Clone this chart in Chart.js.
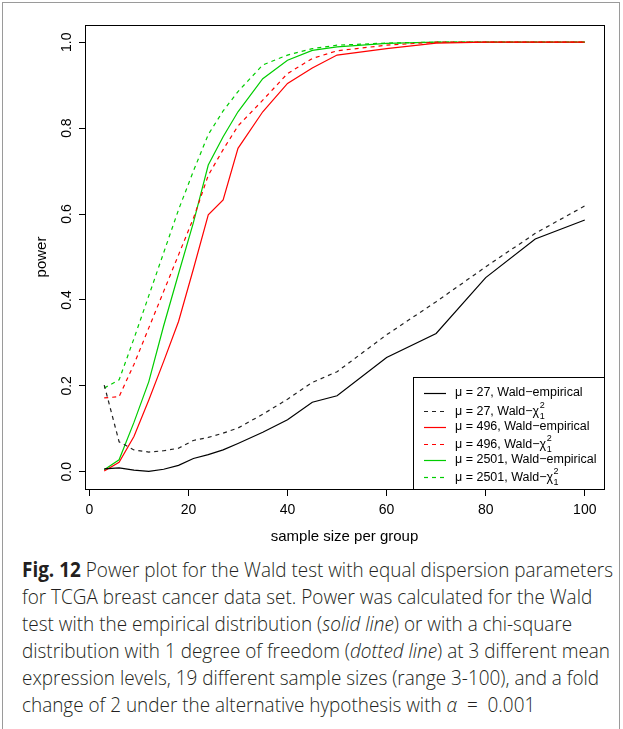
<!DOCTYPE html>
<html>
<head>
<meta charset="utf-8">
<script src="https://cdn.jsdelivr.net/npm/chart.js@4.4.1/dist/chart.umd.min.js"></script>
<style>
  html, body { margin:0; padding:0; background:#fff; }
  body { width:623px; height:729px; position:relative; overflow:hidden; }
  #frame { position:absolute; left:2px; top:2px; width:618px; height:760px; border:1px solid #9a9a9a; box-sizing:border-box; }
  #chart { position:absolute; left:0; top:0; }
  #cap { position:absolute; left:22px; top:556px; font-family:'Open Sans', sans-serif; font-weight:300; font-size:21px; line-height:27px; white-space:nowrap; transform-origin:0 0; color:#231f20; }
  #cap b { font-weight:700; }
</style>
</head>
<body>
<div id="frame"></div>
<canvas id="chart" width="623" height="550"></canvas>
<div id="cap"><span id="l1"><b>Fig. 12</b> Power plot for the Wald test with equal dispersion parameters</span><br>for TCGA breast cancer data set. Power was calculated for the Wald<br>test with the empirical distribution (<i>solid line</i>) or with a chi-square<br>distribution with 1 degree of freedom (<i>dotted line</i>) at 3 different mean<br>expression levels, 19 different sample sizes (range 3-100), and a fold<br>change of 2 under the alternative hypothesis with <i>α</i>&nbsp;&nbsp;=&nbsp;&nbsp;0.001</div>
<script>
// ---- data ----
const sampleSizes = [3, 6, 9, 12, 15, 18, 21, 24, 27, 30, 35, 40, 45, 50, 60, 70, 80, 90, 100];
const mu27Empirical = [0.007, 0.009, 0.004, 0.001, 0.006, 0.015, 0.031, 0.040, 0.051, 0.066, 0.092, 0.121, 0.162, 0.177, 0.266, 0.322, 0.452, 0.542, 0.586];
const mu27Chisq     = [0.202, 0.070, 0.051, 0.046, 0.049, 0.055, 0.073, 0.080, 0.090, 0.102, 0.134, 0.169, 0.208, 0.233, 0.319, 0.396, 0.477, 0.555, 0.619];
const mu496Empirical = [0.002, 0.022, 0.082, 0.167, 0.257, 0.350, 0.472, 0.598, 0.633, 0.753, 0.838, 0.904, 0.940, 0.970, 0.985, 0.998, 1.0, 1.0, 1.0];
const mu496Chisq     = [0.172, 0.175, 0.250, 0.335, 0.420, 0.505, 0.590, 0.690, 0.750, 0.805, 0.865, 0.927, 0.962, 0.980, 0.993, 1.0, 1.0, 1.0, 1.0];
const mu2501Empirical = [0.005, 0.028, 0.115, 0.210, 0.340, 0.461, 0.580, 0.714, 0.780, 0.838, 0.915, 0.958, 0.981, 0.989, 0.997, 1.0, 1.0, 1.0, 1.0];
const mu2501Chisq     = [0.195, 0.214, 0.310, 0.410, 0.510, 0.610, 0.700, 0.785, 0.840, 0.885, 0.947, 0.970, 0.985, 0.993, 0.998, 1.0, 1.0, 1.0, 1.0];

const xTicks = [0, 20, 40, 60, 80, 100];
const yTicks = [0, 0.2, 0.4, 0.6, 0.8, 1.0];
const yTickLabels = ['0.0', '0.2', '0.4', '0.6', '0.8', '1.0'];
const xTitle = 'sample size per group';
const yTitle = 'power';
const legendMu = ['μ = 27', 'μ = 27', 'μ = 496', 'μ = 496', 'μ = 2501', 'μ = 2501'];
const legendTest = ['empirical', 'chisq', 'empirical', 'chisq', 'empirical', 'chisq'];

// ---- styles ----
const FONT = "'Liberation Sans', Arial, Helvetica, sans-serif";
const BLACK = '#000000', RED = '#ff0000', GREEN = '#00cd00';
const DASH = [4, 4];

function pts(arr) { return sampleSizes.map((x, i) => ({ x: x, y: arr[i] })); }
function ds(label, arr, color, dash) {
  return { label: label, data: pts(arr), borderColor: color, backgroundColor: color,
           borderWidth: 1.2, borderDash: dash, pointRadius: 0, tension: 0, fill: false };
}
const datasets = [
  ds(legendMu[0] + ', Wald−empirical', mu27Empirical, BLACK, []),
  ds(legendMu[1] + ', Wald−χ²₁', mu27Chisq, '#222222', DASH),
  ds(legendMu[2] + ', Wald−empirical', mu496Empirical, RED, []),
  ds(legendMu[3] + ', Wald−χ²₁', mu496Chisq, RED, DASH),
  ds(legendMu[4] + ', Wald−empirical', mu2501Empirical, GREEN, []),
  ds(legendMu[5] + ', Wald−χ²₁', mu2501Chisq, GREEN, DASH)
];

const decor = {
  id: 'decor',
  afterDraw(chart) {
    const ctx = chart.ctx, ca = chart.chartArea;
    const xs = chart.scales.x, ys = chart.scales.y;
    ctx.save();
    // plot box
    ctx.strokeStyle = '#000'; ctx.lineWidth = 1; ctx.setLineDash([]);
    ctx.strokeRect(Math.round(ca.left) + 0.5, Math.round(ca.top) + 0.5,
                   Math.round(ca.right - ca.left), Math.round(ca.bottom - ca.top));
    // y tick labels (rotated, parallel to axis)
    ctx.fillStyle = '#000';
    ctx.font = '14px ' + FONT;
    ctx.textAlign = 'center'; ctx.textBaseline = 'alphabetic';
    yTicks.forEach((v, i) => {
      const py = ys.getPixelForValue(v);
      ctx.save(); ctx.translate(71, py); ctx.rotate(-Math.PI / 2);
      ctx.fillText(yTickLabels[i], 0, 0); ctx.restore();
    });
    // axis titles
    ctx.font = '15px ' + FONT;
    ctx.fillText(xTitle, (ca.left + ca.right) / 2, 541);
    ctx.save(); ctx.translate(46, (ca.top + ca.bottom) / 2); ctx.rotate(-Math.PI / 2);
    ctx.fillText(yTitle, 0, 0); ctx.restore();
    // legend
    const lx = 413, ly = 377;
    ctx.strokeStyle = '#000'; ctx.lineWidth = 1;
    ctx.strokeRect(lx + 0.5, ly + 0.5, Math.round(ca.right) - lx, Math.round(ca.bottom) - ly);
    const rows = [393, 410.5, 427, 444, 459.5, 476.5];
    ctx.textAlign = 'left'; ctx.textBaseline = 'middle';
    datasets.forEach((d, i) => {
      const y = rows[i];
      ctx.strokeStyle = d.borderColor; ctx.lineWidth = 1.2;
      ctx.setLineDash(d.borderDash);
      ctx.beginPath(); ctx.moveTo(424, Math.round(y) + 0.5); ctx.lineTo(446, Math.round(y) + 0.5); ctx.stroke();
      ctx.setLineDash([]);
      ctx.fillStyle = '#000';
      ctx.font = '12.5px ' + FONT;
      let tx = 455;
      if (legendTest[i] === 'empirical') {
        ctx.fillText(legendMu[i] + ', Wald−empirical', tx, y);
      } else {
        const base = legendMu[i] + ', Wald−χ';
        ctx.fillText(base, tx, y + 1);
        const w = ctx.measureText(base).width;
        ctx.font = '9px ' + FONT;
        ctx.fillText('2', tx + w + 0.5, y - 5);
        ctx.fillText('1', tx + w + 0.5, y + 6);
      }
    });
    ctx.restore();
  }
};

new Chart(document.getElementById('chart'), {
  type: 'line',
  data: { datasets: datasets },
  options: {
    responsive: false, animation: false, devicePixelRatio: 1,
    layout: { padding: { top: 25, right: 19, left: 0, bottom: 0 } },
    plugins: { legend: { display: false }, tooltip: { enabled: false }, title: { display: false } },
    scales: {
      x: {
        type: 'linear', min: -0.88, max: 103.88,
        afterBuildTicks: s => { s.ticks = xTicks.map(v => ({ value: v })); },
        afterFit: s => { s.height = 61; },
        border: { display: false },
        grid: { drawOnChartArea: false, drawTicks: true, tickLength: 7, color: '#000', lineWidth: 1 },
        ticks: { color: '#000', font: { family: FONT, size: 14 }, padding: 6, maxRotation: 0, minRotation: 0,
                 autoSkip: false, callback: v => String(v) }
      },
      y: {
        type: 'linear', min: -0.04, max: 1.04,
        afterBuildTicks: s => { s.ticks = yTicks.map(v => ({ value: v })); },
        afterFit: s => { s.width = 85; },
        border: { display: false },
        grid: { drawOnChartArea: false, drawTicks: true, tickLength: 6, color: '#000', lineWidth: 1 },
        ticks: { display: false }
      }
    }
  },
  plugins: [decor]
});

function fitCaption() {
  const cap = document.getElementById('cap');
  cap.style.transform = 'none';
  const w = document.getElementById('l1').getBoundingClientRect().width;
  if (w > 0) cap.style.transform = 'scaleX(' + (591 / w) + ')';
}
fitCaption();
if (document.fonts && document.fonts.ready) document.fonts.ready.then(fitCaption);
</script>
</body>
</html>
